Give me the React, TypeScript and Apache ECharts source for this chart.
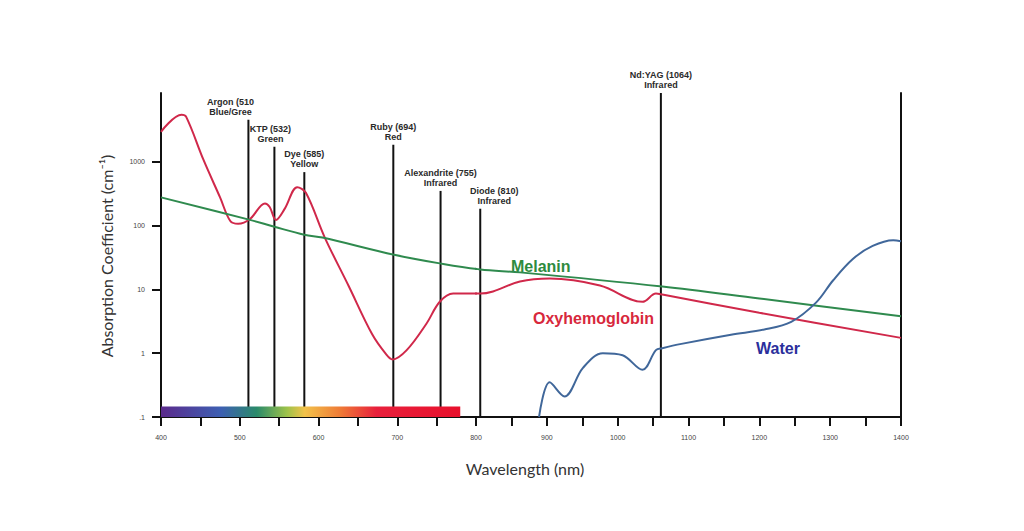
import React, { useEffect, useRef } from 'react';
import * as echarts from 'echarts';

// ---- data ----
const yTickValues = [0.1, 1, 10, 100, 1000];

const oxyWavelength = [400, 426, 432, 454, 475, 488, 498, 513, 532, 538, 546, 557, 573, 584, 608, 638, 668, 686, 694, 712, 737, 754, 771, 806, 824, 862, 904, 975, 1035, 1054, 1063, 1200, 1400];
const oxyValues = [2960, 5450, 5060, 1070, 277, 118, 107, 127, 223, 196, 123, 183, 400, 327, 65, 11.5, 2.0, 0.96, 0.8, 1.12, 2.9, 6.4, 8.6, 8.6, 9.3, 13.3, 14.8, 11.5, 6.4, 8.6, 8.3, 4.3, 1.74];

const melaninWavelength = [400, 513, 544, 582, 605, 696, 754, 806, 862, 1063, 1200, 1400];
const melaninValues = [277, 123, 96, 72, 65, 35, 25.6, 20.5, 18.5, 11.1, 7.2, 3.8];

const waterWavelength = [889, 904, 925, 951, 979, 1007, 1035, 1054, 1063, 1090, 1160, 1207, 1245, 1280, 1304, 1332, 1360, 1389, 1400];
const waterValues = [0.1, 0.35, 0.21, 0.59, 1.0, 0.93, 0.55, 1.12, 1.2, 1.4, 1.95, 2.35, 3.1, 6.2, 13.8, 30, 48, 59, 57];

const laserNames = ['Argon (510', 'KTP (532)', 'Dye (585)', 'Ruby (694)', 'Alexandrite (755)', 'Diode (810)', 'Nd:YAG (1064)'];
const laserBands = ['Blue/Gree', 'Green', 'Yellow', 'Red', 'Infrared', 'Infrared', 'Infrared'];
const laserPositions = [511, 544, 582, 695, 755, 806, 1061];
const laserTops = [4560, 1720, 690, 1850, 350, 184, 12000];

const spectrumStart = 400;
const spectrumEnd = 780;
const spectrumTop = 0.146;
const spectrumColors = ['#5b2a8c', '#3d5fb2', '#2a8a6a', '#9cc24a', '#f2c24a', '#ee7a36', '#e8203c', '#e8102c'];
const spectrumStops = [0, 0.2, 0.32, 0.42, 0.48, 0.6, 0.72, 1];

const labelOffsets = [-18, -4, 0, 0, 0, 14, 0];

const zip = (xs: number[], ys: number[]) => xs.map((x, i) => [x, ys[i]]);

const AXIS_COLOR = '#111';
const RED = '#d0284a';
const GREEN = '#2f8a4e';
const BLUE = '#40679a';

export default function App() {
  const ref = useRef<HTMLDivElement>(null);

  useEffect(() => {
    if (!ref.current) return;
    const chart = echarts.init(ref.current, undefined, { renderer: 'svg' });

    const xAxis = (idx: number, min: number, max: number) => ({
      type: 'value',
      gridIndex: idx,
      min,
      max,
      interval: 50,
      axisLine: { show: true, onZero: false, lineStyle: { color: AXIS_COLOR, width: 2 } },
      axisTick: { show: true, length: 9, lineStyle: { color: AXIS_COLOR, width: 2 } },
      axisLabel: {
        margin: 17,
        fontSize: 7,
        color: '#444',
        fontFamily: 'Liberation Sans',
        formatter: (v: number) => (v % 100 === 0 && !(idx === 1 && v === 800) ? String(v) : ''),
      },
      splitLine: { show: false },
    });

    const curve = (name: string, data: number[][], color: string, grid: number) => ({
      name,
      type: 'line',
      xAxisIndex: grid,
      yAxisIndex: grid,
      data,
      smooth: 0.35,
      showSymbol: false,
      clip: true,
      lineStyle: { color, width: 2 },
      z: 3,
    });

    const series: any[] = [];
    [0, 1].forEach((g) => {
      series.push(curve('Oxyhemoglobin', zip(oxyWavelength, oxyValues), RED, g));
      series.push(curve('Melanin', zip(melaninWavelength, melaninValues), GREEN, g));
      series.push(curve('Water', zip(waterWavelength, waterValues), BLUE, g));
    });

    laserPositions.forEach((w, i) => {
      const g = w > 800 ? 1 : 0;
      series.push({
        type: 'line',
        xAxisIndex: g,
        yAxisIndex: g,
        showSymbol: true,
        symbol: 'circle',
        symbolSize: 0,
        lineStyle: { color: '#111', width: 2 },
        z: 2,
        data: [
          { value: [w, 0.1], label: { show: false } },
          {
            value: [w, laserTops[i]],
            label: {
              show: true,
              position: 'top',
              distance: 3,
              offset: [labelOffsets[i], 0],
              formatter: `${laserNames[i]}\n${laserBands[i]}`,
              fontSize: 9,
              lineHeight: 10,
              fontWeight: 'bold',
              fontFamily: 'Liberation Sans',
              color: '#2a2a2a',
              align: 'center',
            },
          },
        ],
      });
    });

    series.push({
      type: 'custom',
      xAxisIndex: 0,
      yAxisIndex: 0,
      z: 5,
      silent: true,
      data: [[spectrumStart, spectrumEnd, 0.1, spectrumTop]],
      renderItem: (params: any, api: any) => {
        const p1 = api.coord([api.value(0), api.value(3)]);
        const p2 = api.coord([api.value(1), api.value(2)]);
        return {
          type: 'rect',
          shape: { x: p1[0], y: p1[1], width: p2[0] - p1[0], height: p2[1] - p1[1] },
          style: {
            fill: new echarts.graphic.LinearGradient(
              0, 0, 1, 0,
              spectrumColors.map((c, i) => ({ offset: spectrumStops[i], color: c }))
            ),
          },
        };
      },
    });

    chart.setOption({
      animation: false,
      backgroundColor: '#ffffff',
      grid: [
        { left: 161, width: 315, top: 93, bottom: 114 },
        { left: 476, width: 425, top: 93, bottom: 114 },
      ],
      xAxis: [xAxis(0, 400, 800), xAxis(1, 800, 1400)],
      yAxis: [
        {
          type: 'log',
          logBase: 10,
          gridIndex: 0,
          min: 0.1,
          max: 12000,
          axisLine: { show: true, lineStyle: { color: AXIS_COLOR, width: 2 } },
          axisTick: { show: true, length: 9, customValues: yTickValues, lineStyle: { color: AXIS_COLOR, width: 2 } },
          axisLabel: {
            customValues: yTickValues,
            margin: 16,
            fontSize: 7,
            color: '#444',
            fontFamily: 'Liberation Sans',
            formatter: (v: number) => (v < 0.5 ? '.1' : String(Math.round(v))),
          },
          splitLine: { show: false },
        },
        {
          type: 'log',
          logBase: 10,
          gridIndex: 1,
          position: 'right',
          min: 0.1,
          max: 12000,
          axisLine: { show: true, lineStyle: { color: AXIS_COLOR, width: 2 } },
          axisTick: { show: false },
          axisLabel: { show: false },
          splitLine: { show: false },
        },
      ],
      graphic: [
        {
          type: 'text', x: 106, y: 256, rotation: Math.PI / 2,
          style: { text: 'Absorption Coefficient (cm⁻¹)', fontSize: 16, fontFamily: 'Lato', fill: '#333', align: 'center', verticalAlign: 'middle' },
        },
        {
          type: 'text', x: 525, y: 468,
          style: { text: 'Wavelength (nm)', fontSize: 16, fontFamily: 'Lato', fill: '#333', align: 'center', verticalAlign: 'middle' },
        },
        {
          type: 'text', x: 511, y: 266,
          style: { text: 'Melanin', fontSize: 16, fontWeight: 'bold', fontFamily: 'Liberation Sans', fill: '#2e8b3e', align: 'left', verticalAlign: 'middle' },
        },
        {
          type: 'text', x: 533, y: 318,
          style: { text: 'Oxyhemoglobin', fontSize: 16, fontWeight: 'bold', fontFamily: 'Liberation Sans', fill: '#d8283c', align: 'left', verticalAlign: 'middle' },
        },
        {
          type: 'text', x: 756, y: 348,
          style: { text: 'Water', fontSize: 16, fontWeight: 'bold', fontFamily: 'Liberation Sans', fill: '#2b2f9c', align: 'left', verticalAlign: 'middle' },
        },
      ],
      series,
    });

    return () => chart.dispose();
  }, []);

  return (
    <div
      ref={ref}
      style={{ position: 'absolute', left: 0, top: 0, width: 1024, height: 531, background: '#fff' }}
    />
  );
}
